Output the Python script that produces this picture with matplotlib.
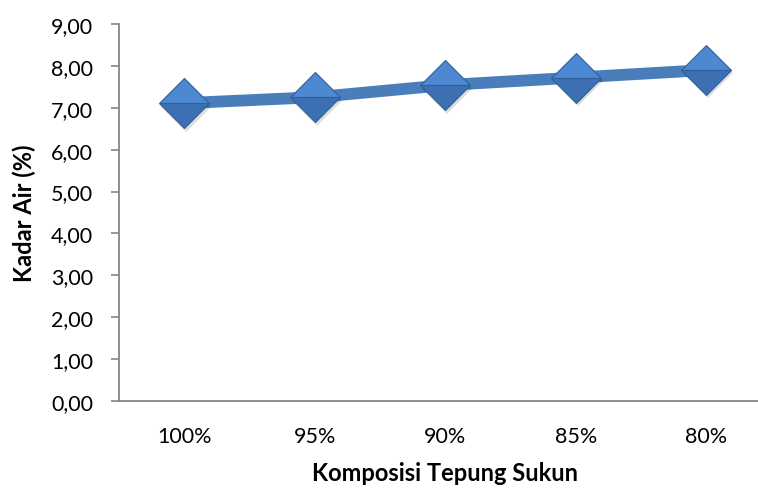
import matplotlib.pyplot as plt
from matplotlib.ticker import FuncFormatter
import matplotlib.transforms as mtransforms

# data
komposisi = ["100%", "95%", "90%", "85%", "80%"]
kadar_air = [7.11, 7.25, 7.54, 7.72, 7.90]

plt.rcParams['font.family'] = ['Lato', 'DejaVu Sans']

fig = plt.figure(figsize=(7.58, 4.89), dpi=100)
ax = fig.add_axes([0.1570, 0.178, 0.861, 0.771])

x = list(range(len(komposisi)))
ax.plot(x, kadar_air, color='#4A7EBB', linewidth=8.5, solid_capstyle='butt', zorder=2)

# soft shadow under the markers
shadow = mtransforms.offset_copy(ax.transData, fig=fig, x=1.5, y=-2.5, units='points')
ax.plot(x, kadar_air, linestyle='none', marker='D', markersize=25, transform=shadow,
        markerfacecolor='#000000', markeredgewidth=0, alpha=0.13, zorder=2.5)
ax.plot(x, kadar_air, linestyle='none', marker='D', markersize=25, fillstyle='top',
        markerfacecolor='#4D89D2', markerfacecoloralt='#3C70B2',
        markeredgecolor='#30609C', markeredgewidth=0.8, zorder=3)

ax.set_xlim(-0.5, len(komposisi) - 0.5)
ax.set_ylim(0, 9)
ax.set_yticks(range(0, 10))
ax.yaxis.set_major_formatter(FuncFormatter(lambda v, p: ("%.2f" % v).replace('.', ',')))
ax.set_xticks(x)
ax.set_xticklabels(komposisi)

for s in ['top', 'right']:
    ax.spines[s].set_visible(False)
ax.spines['left'].set_color('#868686')
ax.spines['bottom'].set_color('#868686')
ax.spines['left'].set_linewidth(1.3)
ax.spines['bottom'].set_linewidth(1.3)
ax.tick_params(axis='y', length=5.8, width=1.2, color='#868686', labelsize=15.5, pad=13)
ax.tick_params(axis='x', length=0, labelsize=15.5, pad=18)

ax.set_ylabel("Kadar Air (%)", fontsize=17, fontweight='bold')
ax.set_xlabel("Komposisi Tepung Sukun", fontsize=17, fontweight='bold')
ax.yaxis.set_label_coords(-0.127, 0.5)
ax.xaxis.set_label_coords(0.5, -0.158)

fig.savefig("out.png", dpi=100)
